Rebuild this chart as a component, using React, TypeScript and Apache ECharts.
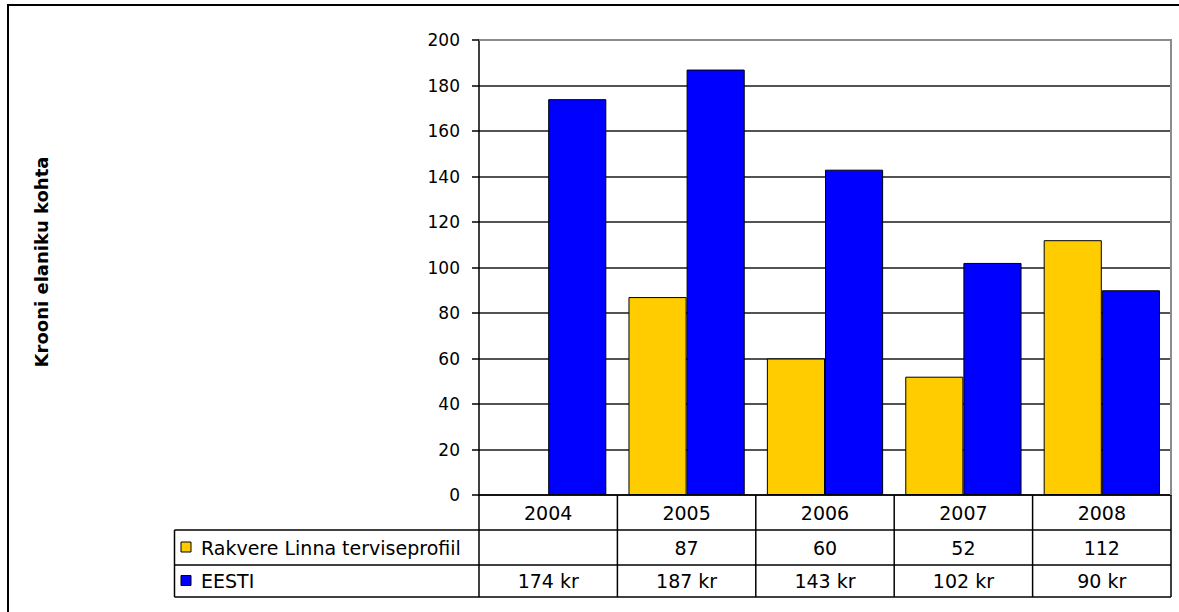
import React, { useEffect, useRef } from "react";
import * as echarts from "echarts";

const years = ["2004", "2005", "2006", "2007", "2008"];
const rakvere: (number | null)[] = [null, 87, 60, 52, 112];
const eesti: number[] = [174, 187, 143, 102, 90];
const seriesNames = ["Rakvere Linna terviseprofiil", "EESTI"];
const seriesColors = ["#FFCC00", "#0000FF"];
const yTitle = "Krooni elaniku kohta";
const eestiSuffix = " kr";

const W = 1179;
const H = 612;
const GRID_LEFT = 479;
const GRID_RIGHT = 1171;
const GRID_TOP = 40;
const GRID_BOTTOM = 495;
const TABLE_LEFT = 174.5;
const ROW1 = 530;
const ROW2 = 565;
const ROW3 = 597;
const FONT = "DejaVu Sans";

export default function App() {
  const ref = useRef<HTMLDivElement>(null);
  useEffect(() => {
    if (!ref.current) return;
    const chart = echarts.init(ref.current, undefined, { renderer: "svg" });
    const n = years.length;
    const colW = (GRID_RIGHT - GRID_LEFT) / n;
    const graphics: any[] = [];
    graphics.push({
      type: "polyline",
      shape: { points: [[8, H], [8, 5], [W, 5]] },
      style: { stroke: "#000", lineWidth: 2, fill: null },
    });
    graphics.push({
      type: "text",
      x: 41,
      y: 262,
      rotation: Math.PI / 2,
      style: {
        text: yTitle,
        font: `bold 18px "${FONT}"`,
        fill: "#000",
        align: "center",
        verticalAlign: "middle",
      },
    });
    const line = (x1: number, y1: number, x2: number, y2: number) => ({
      type: "line",
      shape: { x1, y1, x2, y2 },
      style: { stroke: "#000", lineWidth: 1.5 },
      z: 10,
    });
    for (let i = 0; i <= n; i++) {
      const x = GRID_LEFT + i * colW;
      graphics.push(line(x, GRID_BOTTOM, x, ROW3));
    }
    graphics.push(line(TABLE_LEFT, ROW1, TABLE_LEFT, ROW3));
    graphics.push(line(TABLE_LEFT, ROW1, GRID_RIGHT, ROW1));
    graphics.push(line(TABLE_LEFT, ROW2, GRID_RIGHT, ROW2));
    graphics.push(line(TABLE_LEFT, ROW3, GRID_RIGHT, ROW3));
    // gray plot border top & right
    graphics.push({
      type: "polyline",
      shape: { points: [[GRID_LEFT, GRID_TOP], [GRID_RIGHT, GRID_TOP], [GRID_RIGHT, GRID_BOTTOM]] },
      style: { stroke: "#8c8c8c", lineWidth: 2, fill: null },
      z: 10,
    });
    const rows = [
      { name: seriesNames[0], color: seriesColors[0], vals: rakvere.map((v) => (v == null ? "" : String(v))), yc: (ROW1 + ROW2) / 2 },
      { name: seriesNames[1], color: seriesColors[1], vals: eesti.map((v) => `${v}${eestiSuffix}`), yc: (ROW2 + ROW3) / 2 },
    ];
    rows.forEach((r) => {
      graphics.push({
        type: "rect",
        shape: { x: 181, y: r.yc - 5.5, width: 10, height: 10 },
        style: { fill: r.color, stroke: "#000", lineWidth: 1 },
        z: 10,
      });
      graphics.push({
        type: "text",
        x: 201,
        y: r.yc,
        style: { text: r.name, font: `19px "${FONT}"`, fill: "#000", align: "left", verticalAlign: "middle" },
        z: 10,
      });
      r.vals.forEach((t, i) => {
        graphics.push({
          type: "text",
          x: GRID_LEFT + (i + 0.5) * colW,
          y: r.yc,
          style: { text: t, font: `19px "${FONT}"`, fill: "#000", align: "center", verticalAlign: "middle" },
          z: 10,
        });
      });
    });

    chart.setOption({
      animation: false,
      backgroundColor: "#fff",
      textStyle: { fontFamily: FONT },
      grid: {
        left: GRID_LEFT,
        right: W - GRID_RIGHT,
        top: GRID_TOP,
        bottom: H - GRID_BOTTOM,
      },
      xAxis: {
        type: "category",
        data: years,
        axisLine: { lineStyle: { color: "#000", width: 1.5 } },
        axisTick: { show: false },
        axisLabel: { color: "#000", fontSize: 19, fontFamily: FONT, margin: 8 },
      },
      yAxis: {
        type: "value",
        min: 0,
        max: 200,
        interval: 20,
        axisLine: { show: true, lineStyle: { color: "#000", width: 1.5 } },
        axisTick: { show: true, length: 7, lineStyle: { color: "#000", width: 1.5 } },
        axisLabel: { color: "#000", fontSize: 17, fontFamily: FONT, margin: 19 },
        splitLine: { lineStyle: { color: "#1a1a1a", width: 1.5 } },
      },
      series: [
        {
          name: seriesNames[0],
          type: "bar",
          data: rakvere,
          barGap: "0%",
          barCategoryGap: "16%",
          itemStyle: { color: seriesColors[0], borderColor: "#000", borderWidth: 1 },
        },
        {
          name: seriesNames[1],
          type: "bar",
          data: eesti,
          barGap: "0%",
          barCategoryGap: "16%",
          itemStyle: { color: seriesColors[1], borderColor: "#000", borderWidth: 1 },
        },
      ],
      graphic: graphics,
    });
    return () => chart.dispose();
  }, []);
  return <div ref={ref} style={{ position: "fixed", left: 0, top: 0, width: W, height: H, background: "#fff" }} />;
}
